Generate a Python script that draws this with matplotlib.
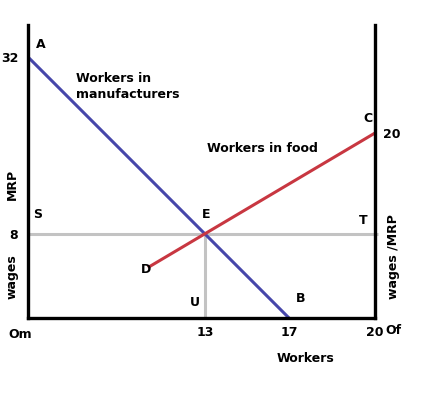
import numpy as np
import matplotlib.pyplot as plt

# diagram values (workers on x, wages / MRP on y)
x_ticks = [13, 17, 20]
y_left_ticks = [8, 32]
y_right_tick = 20

manuf_x = [0, 17]      # A -> B
manuf_y = [32, 0]
food_x = [8.8, 20]     # D -> C
food_y = [4.8, 20]
eq_x, eq_wage = 13, 8  # E

# hand drawn axes are not linear, map values to drawing positions
x_vals = [-5, 0, 13, 17, 20, 25]
x_pos = [-68, 0, 177, 261, 347, 490]
y_vals = [-5, 0, 8, 20, 32, 45]
y_pos = [-52, 0, 84, 185, 261, 343]


def fx(v):
    return np.interp(v, x_vals, x_pos)


def fx_inv(p):
    return np.interp(p, x_pos, x_vals)


def fy(v):
    return np.interp(v, y_vals, y_pos)


def fy_inv(p):
    return np.interp(p, y_pos, y_vals)


plt.rcParams['font.family'] = 'DejaVu Sans'
plt.rcParams['font.weight'] = 'bold'

fig = plt.figure(figsize=(4.31, 3.99), dpi=100)
ax = fig.add_axes([28 / 431, 81 / 399, 347 / 431, 293 / 399])
ax.set_xscale('function', functions=(fx, fx_inv))
ax.set_yscale('function', functions=(fy, fy_inv))
ax.set_xlim(0, 20)
ax.set_ylim(0, float(fy_inv(293)))

# gray guide lines through E
ax.plot([0, 20.1], [eq_wage, eq_wage], color='#c3c3c3', lw=2.2, clip_on=False,
        solid_capstyle='butt', zorder=1)
ax.plot([eq_x, eq_x], [0, eq_wage], color='#c3c3c3', lw=2.2,
        solid_capstyle='butt', zorder=1)

ax.plot(manuf_x, manuf_y, color='#4646aa', lw=2.2, solid_capstyle='butt', zorder=2)
ax.plot(food_x, food_y, color='#c83741', lw=2.2, solid_capstyle='butt', zorder=2)

ax.spines['top'].set_visible(False)
for side in ['left', 'right', 'bottom']:
    ax.spines[side].set_linewidth(2.4)

fs = 9

ax.set_xticks(x_ticks, [str(t) for t in x_ticks])
ax.set_yticks(y_left_ticks, [str(t) for t in y_left_ticks])
ax.tick_params(length=0, labelsize=fs)
ax.tick_params(axis='x', pad=6)
ax.tick_params(axis='y', pad=7)
for lab in ax.get_xticklabels() + ax.get_yticklabels():
    lab.set_fontweight('bold')

kw = dict(textcoords='offset pixels', fontsize=fs, fontweight='bold',
          ha='center', va='center')
ax.annotate('A', (0, 32), xytext=(13, 12), **kw)
ax.annotate('B', (17, 0), xytext=(12, 19), **kw)
ax.annotate('C', (20, 20), xytext=(-7, 15), **kw)
ax.annotate('D', (food_x[0], food_y[0]), xytext=(-2, -2), **kw)
ax.annotate('E', (eq_x, eq_wage), xytext=(1, 20), **kw)
ax.annotate('S', (0, eq_wage), xytext=(10, 19), **kw)
ax.annotate('T', (20, eq_wage), xytext=(-12, 14), **kw)
ax.annotate('U', (eq_x, 0), xytext=(-10, 15), **kw)
ax.annotate(str(y_right_tick), (20, y_right_tick), xytext=(17, -1), **kw)
ax.annotate('Om', (0, 0), xytext=(-8, -16), **kw)
ax.annotate('Of', (20, 0), xytext=(18, -13), **kw)

ax.annotate('Workers in\nmanufacturers', (0, 32), xytext=(48, -30),
            textcoords='offset pixels', fontsize=fs, fontweight='bold',
            ha='left', va='center', linespacing=1.3)
ax.annotate('Workers in food', (eq_x, eq_wage), xytext=(2, 85),
            textcoords='offset pixels', fontsize=fs, fontweight='bold',
            ha='left', va='center')

fig.text(306 / 431, 1 - 358 / 399, 'Workers', fontsize=fs, fontweight='bold',
         ha='center', va='center')
fig.text(12 / 431, 1 - 184 / 399, 'MRP', fontsize=fs,
         fontweight='bold', rotation=90, ha='center', va='center')
fig.text(12 / 431, 1 - 277 / 399, 'wages', fontsize=fs,
         fontweight='bold', rotation=90, ha='center', va='center')
fig.text(394 / 431, 1 - 257 / 399, 'wages /MRP', fontsize=fs,
         fontweight='bold', rotation=90, ha='center', va='center')

fig.savefig('out.png', dpi=100)
